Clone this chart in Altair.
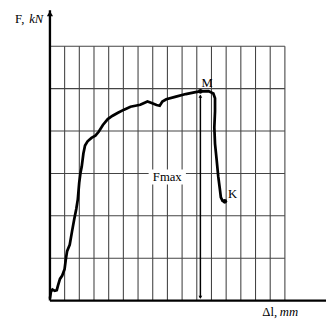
import altair as alt
import pandas as pd

# Load–elongation curve (grid units: 1 unit = one grid cell)
curve_x = [0.0, 0.066, 0.173, 0.332, 0.465, 0.551, 0.684, 0.837, 0.996, 1.082,
           1.169, 1.348, 1.501, 1.660, 1.793, 1.899, 1.992, 2.078, 2.165, 2.278,
           2.390, 2.563, 2.829, 3.094, 3.320, 3.606, 3.938, 4.270, 4.602, 5.046,
           5.485, 5.817, 6.149, 6.375, 6.640, 6.926, 7.258, 7.477, 7.656, 7.922,
           8.586, 9.250, 9.914, 10.246, 10.797, 11.129, 11.242, 11.242, 11.195, 11.242,
           11.355, 11.461, 11.574, 11.640, 11.753, 11.906]
curve_y = [0.046, 0.207, 0.260, 0.230, 0.246, 0.361, 0.513, 0.591, 0.743, 0.974,
           1.167, 1.319, 1.627, 1.933, 2.163, 2.394, 2.778, 3.008, 3.160, 3.468,
           3.659, 3.758, 3.837, 3.890, 3.982, 4.143, 4.281, 4.361, 4.426, 4.504,
           4.573, 4.596, 4.619, 4.656, 4.695, 4.660, 4.614, 4.596, 4.695, 4.748,
           4.810, 4.872, 4.918, 4.937, 4.941, 4.886, 4.771, 4.465, 4.081, 3.699,
           3.314, 2.930, 2.624, 2.433, 2.354, 2.341]

grid_cols = list(range(1, 17))   # vertical grid lines
grid_rows = list(range(1, 7))    # horizontal grid lines
grid_x_max = 16
grid_y_max = 6

x_axis_end = 18.8
y_axis_end = 6.85

points_name = ["M", "K"]
points_x = [10.246, 11.906]
points_y = [4.937, 2.341]
points_lx = [10.32, 12.13]
points_ly = [5.13, 2.51]

fmax_x = 10.246
fmax_y0 = 0.06
fmax_y1 = 4.84
fmax_label = "Fmax"
fmax_lx = 7.99
fmax_ly = 2.916
fmax_box = [6.72, 9.26, 2.74, 3.09]

SERIF = "Liberation Serif"
FS = 13

xs = alt.Scale(domain=[0, x_axis_end], nice=False, zero=False)
ys = alt.Scale(domain=[0, 6.81], nice=False, zero=False)

def X(f):
    return alt.X(f, type="quantitative", scale=xs, axis=None)

def Y(f):
    return alt.Y(f, type="quantitative", scale=ys, axis=None)

vgrid = pd.DataFrame({"x": grid_cols, "y0": 0, "y1": grid_y_max})
hgrid = pd.DataFrame({"y": grid_rows, "x0": 0, "x1": grid_x_max})

vlines = alt.Chart(vgrid).mark_rule(color="#444444", strokeWidth=1.1).encode(
    x=X("x"), y=Y("y0"), y2="y1")
hlines = alt.Chart(hgrid).mark_rule(color="#444444", strokeWidth=1.1).encode(
    y=Y("y"), x=X("x0"), x2="x1")

box = alt.Chart(pd.DataFrame({"x0": [fmax_box[0]], "x1": [fmax_box[1]],
                              "y0": [fmax_box[2]], "y1": [fmax_box[3]]})).mark_rect(
    color="white").encode(x=X("x0"), x2="x1", y=Y("y0"), y2="y1")

axes_df = pd.DataFrame({"x0": [0, 0], "x1": [0, x_axis_end],
                        "y0": [0, 0], "y1": [y_axis_end, 0]})
axes = alt.Chart(axes_df).mark_rule(color="black", strokeWidth=2.4).encode(
    x=X("x0"), x2="x1", y=Y("y0"), y2="y1")

yarrow = alt.Chart(pd.DataFrame({"x": [0], "y": [y_axis_end - 0.08]})).mark_point(
    shape="triangle-up", filled=True, color="black", size=40, opacity=1).encode(
    x=X("x"), y=Y("y"))

curve_df = pd.DataFrame({"x": curve_x, "y": curve_y, "i": range(len(curve_x))})
curve = alt.Chart(curve_df).mark_line(color="black", strokeWidth=2.8,
                                      interpolate="linear").encode(
    x=X("x"), y=Y("y"), order="i:Q")

fmax_line = alt.Chart(pd.DataFrame({"x": [fmax_x], "y0": [fmax_y0], "y1": [fmax_y1]})).mark_rule(
    color="black", strokeWidth=1.5).encode(x=X("x"), y=Y("y0"), y2="y1")
fmax_heads = alt.Chart(pd.DataFrame({"x": [fmax_x, fmax_x], "y": [fmax_y1 - 0.02, fmax_y0 + 0.02],
                                     "s": ["triangle-up", "triangle-down"]})).mark_point(
    filled=True, color="black", size=14, opacity=1).encode(
    x=X("x"), y=Y("y"),
    shape=alt.Shape("s:N", scale=alt.Scale(domain=["triangle-up", "triangle-down"],
                                           range=["triangle-up", "triangle-down"]), legend=None))

dots = alt.Chart(pd.DataFrame({"x": points_x, "y": points_y})).mark_circle(
    color="black", size=24, opacity=1).encode(x=X("x"), y=Y("y"))
plabels = alt.Chart(pd.DataFrame({"x": points_lx, "y": points_ly, "t": points_name})).mark_text(
    font=SERIF, fontSize=FS, align="left", baseline="middle", color="black").encode(
    x=X("x"), y=Y("y"), text="t:N")

fmax_text = alt.Chart(pd.DataFrame({"x": [fmax_lx], "y": [fmax_ly], "t": [fmax_label]})).mark_text(
    font=SERIF, fontSize=FS, align="center", baseline="middle", color="black").encode(
    x=X("x"), y=Y("y"), text="t:N")

lab_df = pd.DataFrame({"x": [-2.372, -1.415, 14.46, 15.65],
                       "y": [6.536, 6.536, -0.368, -0.368],
                       "t": ["F,", "kN", "\u0394l,", "mm"],
                       "st": ["normal", "italic", "normal", "italic"]})
lab_n = alt.Chart(lab_df[lab_df.st == "normal"]).mark_text(
    font=SERIF, fontSize=FS, align="left", baseline="alphabetic", color="black").encode(
    x=X("x"), y=Y("y"), text="t:N")
lab_i = alt.Chart(lab_df[lab_df.st == "italic"]).mark_text(
    font=SERIF, fontSize=FS, fontStyle="italic", align="left", baseline="alphabetic",
    color="black").encode(x=X("x"), y=Y("y"), text="t:N")

chart = alt.layer(vlines, hlines, box, axes, yarrow, curve, fmax_line, fmax_heads,
                  dots, plabels, fmax_text, lab_n, lab_i).properties(
    width=283, height=296,
    autosize=alt.AutoSizeParams(type="none"),
    padding={"left": 43, "top": 0, "right": 0, "bottom": 20},
    background="white",
).configure_view(stroke=None)

chart.save("out.html", embed_options={"renderer": "svg", "actions": False})
